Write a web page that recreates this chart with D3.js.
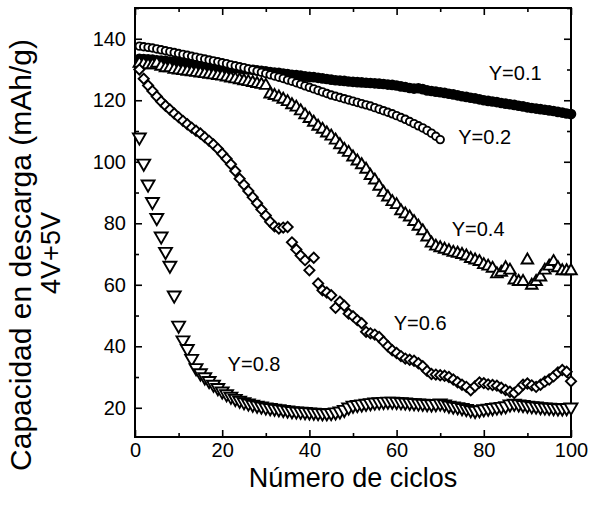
<!DOCTYPE html>
<html>
<head>
<meta charset="utf-8">
<script src="https://cdn.jsdelivr.net/npm/d3@7"></script>
<style>
  body { margin: 0; background: #fff; }
  svg { display: block; }
  text { font-family: "Liberation Sans", Arial, Helvetica, sans-serif; fill: #000; }
</style>
</head>
<body>
<svg id="chart" width="591" height="513"></svg>
<script>
// capacity (mAh/g) per cycle
const y01 = [
  133.5,133.4,133.3,133.2,133.0,132.9,132.8,132.6,132.5,132.3,
  132.2,132.0,131.9,131.7,131.6,131.4,131.3,131.1,131.0,130.8,
  130.7,130.5,130.4,130.3,130.1,130.0,129.9,129.7,129.6,129.4,
  129.2,129.0,128.9,128.7,128.5,128.3,128.2,128.0,127.8,127.6,
  127.5,127.3,127.1,126.9,126.7,126.5,126.4,126.3,126.1,126.0,
  125.9,125.8,125.7,125.6,125.5,125.4,125.3,125.1,125.0,124.8,
  124.5,124.3,124.0,123.8,123.9,123.6,123.2,123.0,122.8,122.6,
  122.4,122.1,121.9,121.6,121.3,121.1,120.8,120.6,120.3,120.0,
  119.8,119.6,119.4,119.1,118.9,118.7,118.5,118.2,118.0,117.7,
  117.5,117.3,117.1,116.9,116.7,116.5,116.2,116.0,115.7,115.5
];
const y02 = [
  137.6,137.4,137.2,137.0,136.7,136.4,136.1,135.8,135.5,135.2,
  134.9,134.6,134.3,134.0,133.7,133.4,133.1,132.8,132.5,132.2,
  131.9,131.5,131.2,130.9,130.6,130.2,129.9,129.5,129.1,128.7,
  128.3,127.9,127.5,127.1,126.6,126.2,125.7,125.2,124.7,124.2,
  123.7,123.2,122.7,122.2,121.7,121.3,120.9,120.5,120.1,119.7,
  119.3,118.9,118.5,118.1,117.6,117.1,116.6,116.1,115.6,115.0,
  114.4,113.8,113.1,112.4,111.7,111.0,110.2,109.3,108.3,107.2
];
const y04 = [
  132.0,131.8,131.5,131.5,132.0,131.0,130.5,130.5,130.0,129.8,
  129.6,129.4,129.2,129.0,128.8,128.6,128.4,128.2,128.0,127.8,
  127.5,127.2,126.9,126.6,126.3,126.0,125.7,125.4,125.1,124.8,
  122.0,121.5,121.0,120.3,119.5,118.5,117.7,116.5,115.2,114.0,
  112.8,111.5,110.5,109.3,108.3,107.0,105.5,104.0,103.0,101.5,
  100.2,99.0,97.5,95.5,94.0,92.0,90.0,88.5,87.0,86.0,
  84.0,83.0,82.0,80.5,79.0,77.5,75.5,73.5,72.5,72.0,
  71.5,71.0,70.5,70.2,69.8,69.3,68.5,68.0,67.5,66.5,
  66.0,65.3,63.5,64.0,65.5,64.7,61.5,61.0,61.0,68.0,
  59.8,61.0,62.5,64.7,66.0,67.5,65.5,64.5,64.5,64.5
];
const y06 = [
  130.0,127.0,124.8,123.0,121.2,119.6,118.2,117.0,115.7,114.5,
  113.3,112.2,111.1,110.1,109.2,108.0,106.8,105.6,104.2,102.6,
  101.0,99.2,97.0,94.5,92.5,90.5,88.5,86.5,84.5,82.5,
  80.5,79.0,78.3,78.6,78.8,73.8,71.5,69.5,68.0,64.7,
  68.8,60.4,58.2,57.5,56.6,52.5,54.5,53.2,50.6,49.8,
  48.5,47.5,44.7,44.2,43.8,43.0,41.5,40.0,38.7,37.8,
  36.8,36.0,35.6,35.3,34.5,33.5,32.0,31.0,30.8,30.6,
  30.4,30.0,29.2,28.3,27.5,26.8,25.7,27.0,28.2,28.0,
  27.6,27.4,27.2,26.5,25.8,25.2,24.8,26.0,27.5,27.9,
  27.3,26.8,27.5,28.5,29.2,30.2,31.5,32.3,31.7,28.6
];
const y08 = [
  108.0,99.5,92.7,87.0,81.8,75.8,70.8,66.3,56.6,46.8,
  42.0,39.2,36.0,33.0,31.3,30.0,28.8,27.6,26.5,25.4,
  24.5,23.7,23.0,22.4,21.9,21.5,21.1,20.8,20.5,20.2,
  20.0,19.8,19.6,19.4,19.2,19.0,18.9,18.8,18.7,18.6,
  18.5,18.4,18.3,18.3,18.4,18.6,18.9,19.4,20.2,20.8,
  21.0,21.2,21.4,21.6,21.8,21.9,22.0,22.1,22.1,22.0,
  21.9,21.8,21.7,21.6,21.5,21.4,21.3,21.2,21.3,21.5,
  21.2,20.8,20.5,20.3,20.0,19.7,19.3,19.1,19.3,19.6,
  19.8,20.0,20.2,20.4,20.6,21.2,21.4,21.2,21.0,20.8,
  20.6,20.5,20.3,20.2,20.1,20.0,19.9,19.9,20.0,20.2
];

const xMajor = [0, 20, 40, 60, 80, 100];
const xMinor = [10, 30, 50, 70, 90];
const yMajor = [20, 40, 60, 80, 100, 120, 140];
const yMinor = [30, 50, 70, 90, 110, 130, 150];

const labels = [
  { text: "Y=0.1", x: 87.2, y: 129.0 },
  { text: "Y=0.2", x: 80.2, y: 107.9 },
  { text: "Y=0.4", x: 78.7, y: 78.0 },
  { text: "Y=0.6", x: 65.4, y: 47.5 },
  { text: "Y=0.8", x: 27.3, y: 34.2 }
];

const svg = d3.select("#chart");
const L = 135, R = 571, T = 8, B = 437;

const x = d3.scaleLinear().domain([0, 100]).range([L, R]);
const y = d3.scaleLinear().domain([10.5, 150]).range([B, T]);

function drawAxis(axis, tx, ty) {
  const g = svg.append("g").attr("transform", `translate(${tx},${ty})`).call(axis);
  g.select(".domain").remove();
  g.selectAll(".tick line").attr("stroke", "#000").attr("stroke-width", 1.6);
  g.selectAll(".tick text").style("font-size", "20px").attr("fill", "#000");
  return g;
}

// inward major and minor ticks on all four sides
drawAxis(d3.axisBottom(x).tickValues(xMajor).tickSize(-7).tickPadding(6).tickFormat(d3.format("d")), 0, B);
drawAxis(d3.axisBottom(x).tickValues(xMinor).tickSize(-4).tickFormat(""), 0, B);
drawAxis(d3.axisTop(x).tickValues(xMajor).tickSize(-7).tickFormat(""), 0, T);
drawAxis(d3.axisTop(x).tickValues(xMinor).tickSize(-4).tickFormat(""), 0, T);
drawAxis(d3.axisLeft(y).tickValues(yMajor).tickSize(-7).tickPadding(9).tickFormat(d3.format("d")), L, 0);
drawAxis(d3.axisLeft(y).tickValues(yMinor).tickSize(-4).tickFormat(""), L, 0);
drawAxis(d3.axisRight(y).tickValues(yMajor).tickSize(-7).tickFormat(""), R, 0);
drawAxis(d3.axisRight(y).tickValues(yMinor).tickSize(-4).tickFormat(""), R, 0);

svg.append("rect")
  .attr("x", L).attr("y", T)
  .attr("width", R - L).attr("height", B - T)
  .attr("fill", "none").attr("stroke", "#000").attr("stroke-width", 2);

const sym = {
  dot: d3.symbol().type(d3.symbolCircle).size(60),
  circle: d3.symbol().type(d3.symbolCircle).size(45),
  up: d3.symbol().type(d3.symbolTriangle).size(58),
  diamond: d3.symbol().type(d3.symbolSquare).size(52),
  down: d3.symbol().type(d3.symbolTriangle).size(72)
};

function drawSeries(values, shape, filled, rot) {
  svg.append("g").selectAll("path")
    .data(values)
    .join("path")
    .attr("d", sym[shape])
    .attr("transform", (d, i) => `translate(${x(i + 1)},${y(d)}) rotate(${rot})`)
    .attr("fill", filled ? "#000" : "#fff")
    .attr("stroke", "#000")
    .attr("stroke-width", 1.9);
}

drawSeries(y01, "dot", true, 0);
drawSeries(y04, "up", false, 0);
drawSeries(y06, "diamond", false, 45);
drawSeries(y08, "down", false, 180);
drawSeries(y02, "circle", false, 0);

svg.append("g").selectAll("text")
  .data(labels)
  .join("text")
  .attr("x", d => x(d.x))
  .attr("y", d => y(d.y))
  .attr("text-anchor", "middle")
  .attr("dominant-baseline", "central")
  .style("font-size", "20px")
  .text(d => d.text);

svg.append("text")
  .attr("x", 353).attr("y", 487)
  .attr("text-anchor", "middle")
  .style("font-size", "27px")
  .text("Número de ciclos");

svg.append("text")
  .attr("transform", "translate(20,255) rotate(-90)")
  .attr("text-anchor", "middle")
  .attr("dominant-baseline", "central")
  .style("font-size", "30px")
  .text("Capacidad en descarga (mAh/g)");

svg.append("text")
  .attr("transform", "translate(51,253) rotate(-90)")
  .attr("text-anchor", "middle")
  .attr("dominant-baseline", "central")
  .style("font-size", "27px")
  .text("4V+5V");
</script>
</body>
</html>
